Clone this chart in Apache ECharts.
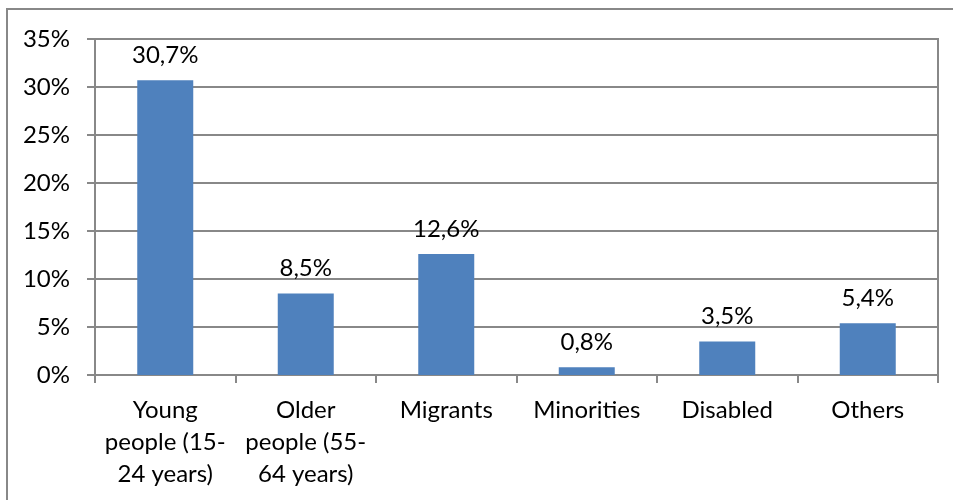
<!DOCTYPE html>
<html>
<head>
<meta charset="utf-8">
<script src="https://cdn.jsdelivr.net/npm/echarts@6/dist/echarts.min.js"></script>
<style>html,body{margin:0;padding:0;background:#fff}#c{width:953px;height:500px}</style>
</head>
<body>
<div id="c"></div>
<script>
var categories = ["Young\npeople (15-\n24 years)", "Older\npeople (55-\n64 years)", "Migrants", "Minorities", "Disabled", "Others"];
var values = [30.7, 8.5, 12.6, 0.8, 3.5, 5.4];
var yMin = 0, yMax = 35, yStep = 5;

var FONT = 'Lato';
var FS = 24;
var chart = echarts.init(document.getElementById('c'), null, {renderer: 'canvas'});
chart.setOption({
  animation: false,
  backgroundColor: '#fff',
  textStyle: {fontFamily: FONT},
  graphic: [{
    type: 'rect', z: -1,
    shape: {x: 7, y: 9, width: 1000, height: 600},
    style: {fill: 'none', stroke: '#888', lineWidth: 2}
  }],
  grid: {left: 95, right: 15, top: 39, bottom: 125, show: true, borderColor: '#888', borderWidth: 2, backgroundColor: 'transparent'},
  xAxis: {
    type: 'category',
    data: categories,
    axisLine: {lineStyle: {color: '#888', width: 2}},
    axisTick: {show: true, length: 8, lineStyle: {color: '#888', width: 2}, alignWithLabel: false},
    axisLabel: {color: '#000', fontSize: FS, fontFamily: FONT, lineHeight: 32, margin: 19, interval: 0}
  },
  yAxis: {
    type: 'value', min: yMin, max: yMax, interval: yStep,
    axisLine: {show: true, lineStyle: {color: '#888', width: 2}},
    axisTick: {show: true, length: 8, lineStyle: {color: '#888', width: 2}},
    splitLine: {lineStyle: {color: '#888', width: 2}},
    axisLabel: {color: '#000', fontSize: FS, fontFamily: FONT, margin: 25, formatter: '{value}%'}
  },
  series: [{
    type: 'bar',
    data: values,
    barWidth: 56,
    itemStyle: {color: '#4f81bd'},
    label: {
      show: true, position: 'top', distance: 13, color: '#000', fontSize: FS, fontFamily: FONT,
      formatter: function (p) { return p.value.toFixed(1).replace('.', ',') + '%'; }
    }
  }]
});
</script>
</body>
</html>
